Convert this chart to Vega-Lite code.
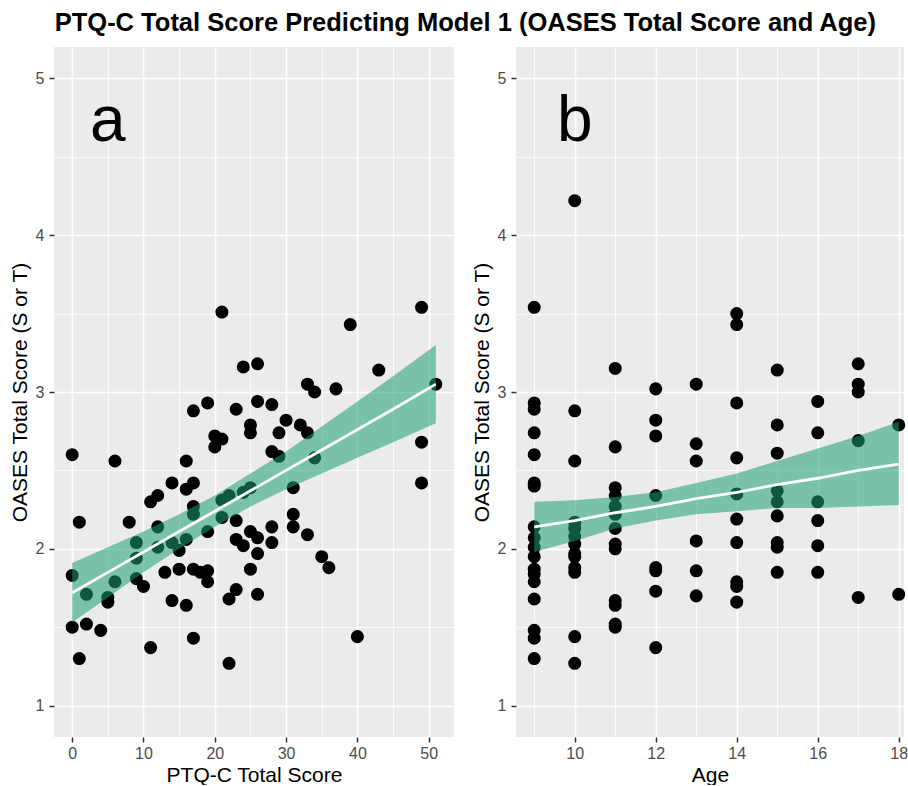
{
  "$schema": "https://vega.github.io/schema/vega-lite/v6.json",
  "padding": {"left": 9, "top": 10, "right": 0, "bottom": 0},
  "background": "white",
  "title": {"text": "PTQ-C Total Score Predicting Model 1 (OASES Total Score and Age)", "fontSize": 25.5, "fontWeight": "bold", "font": "Liberation Sans", "color": "#000000", "anchor": "middle", "offset": 11, "dx": 7},
  "config": {
    "view": {"fill": "#EBEBEB", "stroke": null},
    "axis": {"domain": false, "tickColor": "#333333", "tickWidth": 1.5, "tickSize": 5, "labelPadding": 3, "labelFont": "Liberation Sans", "labelFontSize": 16, "labelColor": "#4D4D4D", "titleFont": "Liberation Sans", "titleFontSize": 21, "titleFontWeight": "normal", "titleColor": "#000000", "titlePadding": 3, "gridColor": "#FFFFFF", "labelOverlap": false, "labelFlush": false},
    "axisY": {"labelPadding": 5, "titlePadding": 5}
  },
  "datasets": {
    "ptq": [
      {"x":0,"y":2.60},{"x":6,"y":2.56},{"x":16,"y":2.56},{"x":21,"y":3.51},{"x":49,"y":3.54},{"x":39,"y":3.43},{"x":24,"y":3.16},{"x":26,"y":3.18},{"x":43,"y":3.14},{"x":33,"y":3.05},{"x":34,"y":3.00},{"x":37,"y":3.02},{"x":51,"y":3.05},{"x":19,"y":2.93},{"x":17,"y":2.88},{"x":23,"y":2.89},{"x":26,"y":2.94},{"x":28,"y":2.92},{"x":30,"y":2.82},{"x":25,"y":2.79},{"x":25,"y":2.74},{"x":20,"y":2.72},{"x":21,"y":2.70},{"x":20,"y":2.65},{"x":29,"y":2.74},{"x":32,"y":2.79},{"x":33,"y":2.74},{"x":28,"y":2.62},{"x":29,"y":2.59},{"x":34,"y":2.58},{"x":49,"y":2.68},
      {"x":14,"y":2.42},{"x":17,"y":2.42},{"x":16,"y":2.38},{"x":49,"y":2.42},{"x":11,"y":2.30},{"x":12,"y":2.34},{"x":17,"y":2.27},{"x":17,"y":2.22},{"x":21,"y":2.31},{"x":22,"y":2.34},{"x":24,"y":2.36},{"x":25,"y":2.39},{"x":31,"y":2.39},{"x":31,"y":2.22},{"x":31,"y":2.14},{"x":33,"y":2.09},{"x":21,"y":2.20},{"x":23,"y":2.18},{"x":25,"y":2.11},{"x":26,"y":2.07},{"x":23,"y":2.06},{"x":24,"y":2.02},{"x":28,"y":2.14},{"x":28,"y":2.04},{"x":26,"y":1.97},{"x":25,"y":1.87},{"x":23,"y":1.74},{"x":22,"y":1.68},{"x":26,"y":1.71},{"x":22,"y":1.27},{"x":35,"y":1.95},{"x":36,"y":1.88},{"x":40,"y":1.44},{"x":8,"y":2.17},{"x":1,"y":2.17},{"x":9,"y":2.04},{"x":9,"y":1.94},{"x":12,"y":2.14},{"x":12,"y":2.01},{"x":14,"y":2.04},{"x":15,"y":1.99},{"x":16,"y":2.06},{"x":19,"y":2.11},{"x":13,"y":1.85},{"x":15,"y":1.87},{"x":17,"y":1.87},{"x":18,"y":1.85},{"x":19,"y":1.86},{"x":19,"y":1.79},{"x":9,"y":1.81},{"x":10,"y":1.76},{"x":6,"y":1.79},{"x":0,"y":1.83},{"x":2,"y":1.71},{"x":5,"y":1.69},{"x":5,"y":1.66},{"x":14,"y":1.67},{"x":16,"y":1.64},{"x":0,"y":1.50},{"x":2,"y":1.52},{"x":4,"y":1.48},{"x":1,"y":1.30},{"x":11,"y":1.37},{"x":17,"y":1.43}
    ],
    "age": [
      {"x":9,"y":3.54},{"x":9,"y":2.93},{"x":9,"y":2.89},{"x":9,"y":2.74},{"x":9,"y":2.60},{"x":9,"y":2.42},{"x":9,"y":2.40},{"x":9,"y":2.14},{"x":9,"y":2.07},{"x":9,"y":2.01},{"x":9,"y":1.95},{"x":9,"y":1.87},{"x":9,"y":1.84},{"x":9,"y":1.79},{"x":9,"y":1.68},{"x":9,"y":1.48},{"x":9,"y":1.43},{"x":9,"y":1.30},
      {"x":10,"y":4.22},{"x":10,"y":2.88},{"x":10,"y":2.56},{"x":10,"y":2.17},{"x":10,"y":2.13},{"x":10,"y":2.08},{"x":10,"y":2.03},{"x":10,"y":1.97},{"x":10,"y":1.95},{"x":10,"y":1.88},{"x":10,"y":1.85},{"x":10,"y":1.44},{"x":10,"y":1.27},
      {"x":11,"y":3.15},{"x":11,"y":2.65},{"x":11,"y":2.39},{"x":11,"y":2.34},{"x":11,"y":2.27},{"x":11,"y":2.22},{"x":11,"y":2.13},{"x":11,"y":2.03},{"x":11,"y":2.00},{"x":11,"y":1.67},{"x":11,"y":1.64},{"x":11,"y":1.52},{"x":11,"y":1.50},
      {"x":12,"y":3.02},{"x":12,"y":2.82},{"x":12,"y":2.72},{"x":12,"y":2.34},{"x":12,"y":1.88},{"x":12,"y":1.86},{"x":12,"y":1.73},{"x":12,"y":1.37},
      {"x":13,"y":3.05},{"x":13,"y":2.67},{"x":13,"y":2.56},{"x":13,"y":2.05},{"x":13,"y":1.86},{"x":13,"y":1.70},
      {"x":14,"y":3.50},{"x":14,"y":3.43},{"x":14,"y":2.93},{"x":14,"y":2.58},{"x":14,"y":2.35},{"x":14,"y":2.19},{"x":14,"y":2.04},{"x":14,"y":1.79},{"x":14,"y":1.76},{"x":14,"y":1.66},
      {"x":15,"y":3.14},{"x":15,"y":2.79},{"x":15,"y":2.61},{"x":15,"y":2.37},{"x":15,"y":2.30},{"x":15,"y":2.21},{"x":15,"y":2.04},{"x":15,"y":2.01},{"x":15,"y":1.85},
      {"x":16,"y":2.94},{"x":16,"y":2.74},{"x":16,"y":2.30},{"x":16,"y":2.18},{"x":16,"y":2.02},{"x":16,"y":1.85},
      {"x":17,"y":3.18},{"x":17,"y":3.05},{"x":17,"y":3.00},{"x":17,"y":2.69},{"x":17,"y":1.69},
      {"x":18,"y":2.79},{"x":18,"y":1.71}
    ],
    "ptq_fit": [
      {"x":0,"lo":1.53,"y":1.72,"hi":1.91},{"x":5,"lo":1.69,"y":1.85,"hi":2.01},{"x":10,"lo":1.85,"y":1.98,"hi":2.11},{"x":15,"lo":2.00,"y":2.11,"hi":2.22},{"x":20,"lo":2.14,"y":2.24,"hi":2.34},{"x":25,"lo":2.27,"y":2.37,"hi":2.48},{"x":30,"lo":2.38,"y":2.50,"hi":2.62},{"x":35,"lo":2.48,"y":2.63,"hi":2.78},{"x":40,"lo":2.58,"y":2.76,"hi":2.94},{"x":45,"lo":2.68,"y":2.89,"hi":3.10},{"x":51,"lo":2.80,"y":3.05,"hi":3.30}
    ],
    "age_fit": [
      {"x":9,"lo":1.98,"y":2.14,"hi":2.30},{"x":10,"lo":2.05,"y":2.18,"hi":2.31},{"x":11,"lo":2.13,"y":2.23,"hi":2.33},{"x":12,"lo":2.18,"y":2.27,"hi":2.36},{"x":13,"lo":2.22,"y":2.32,"hi":2.42},{"x":14,"lo":2.24,"y":2.36,"hi":2.48},{"x":15,"lo":2.26,"y":2.41,"hi":2.56},{"x":16,"lo":2.26,"y":2.45,"hi":2.64},{"x":17,"lo":2.27,"y":2.50,"hi":2.72},{"x":18,"lo":2.28,"y":2.54,"hi":2.81}
    ],
    "label_a": [{"x":5,"y":4.6,"label":"a"}],
    "label_b": [{"x":10,"y":4.6,"label":"b"}]
  },
  "spacing": 17,
  "hconcat": [
    {
      "width": 400,
      "height": 690,
      "encoding": {
        "x": {"field": "x", "type": "quantitative", "scale": {"domain": [-2.55, 53.55], "nice": false, "zero": false},
          "axis": {"title": "PTQ-C Total Score", "values": [0,5,10,15,20,25,30,35,40,45,50],
            "labelExpr": "datum.value % 10 === 0 ? format(datum.value, 'd') : ''",
            "gridWidth": {"condition": {"test": "datum.value % 10 === 0", "value": 1.6}, "value": 0.8},
            "tickOpacity": {"condition": {"test": "datum.value % 10 === 0", "value": 1}, "value": 0}}},
        "y": {"field": "y", "type": "quantitative", "scale": {"domain": [0.8, 5.2], "nice": false, "zero": false},
          "axis": {"title": "OASES Total Score (S or T)", "values": [1,1.5,2,2.5,3,3.5,4,4.5,5],
            "labelExpr": "datum.value % 1 === 0 ? format(datum.value, 'd') : ''",
            "gridWidth": {"condition": {"test": "datum.value % 1 === 0", "value": 1.6}, "value": 0.8},
            "tickOpacity": {"condition": {"test": "datum.value % 1 === 0", "value": 1}, "value": 0}}}
      },
      "layer": [
        {"data": {"name": "ptq"}, "mark": {"type": "circle", "size": 170, "color": "#000000", "opacity": 1}},
        {"data": {"name": "ptq_fit"}, "mark": {"type": "area", "color": "#1B9E77", "opacity": 0.55}, "encoding": {"y": {"field": "lo", "type": "quantitative"}, "y2": {"field": "hi"}}},
        {"data": {"name": "ptq_fit"}, "mark": {"type": "line", "color": "#FFFFFF", "strokeWidth": 2.8}},
        {"data": {"name": "label_a"}, "mark": {"type": "text", "fontSize": 64, "font": "Liberation Sans", "color": "#000000", "align": "center", "baseline": "alphabetic"}, "encoding": {"text": {"field": "label"}}}
      ]
    },
    {
      "width": 388,
      "height": 690,
      "encoding": {
        "x": {"field": "x", "type": "quantitative", "scale": {"domain": [8.55, 18.13], "nice": false, "zero": false},
          "axis": {"title": "Age", "values": [9,10,11,12,13,14,15,16,17,18],
            "labelExpr": "datum.value % 2 === 0 ? format(datum.value, 'd') : ''",
            "gridWidth": {"condition": {"test": "datum.value % 2 === 0", "value": 1.6}, "value": 0.8},
            "tickOpacity": {"condition": {"test": "datum.value % 2 === 0", "value": 1}, "value": 0}}},
        "y": {"field": "y", "type": "quantitative", "scale": {"domain": [0.8, 5.2], "nice": false, "zero": false},
          "axis": {"title": "OASES Total Score (S or T)", "values": [1,1.5,2,2.5,3,3.5,4,4.5,5],
            "labelExpr": "datum.value % 1 === 0 ? format(datum.value, 'd') : ''",
            "gridWidth": {"condition": {"test": "datum.value % 1 === 0", "value": 1.6}, "value": 0.8},
            "tickOpacity": {"condition": {"test": "datum.value % 1 === 0", "value": 1}, "value": 0}}}
      },
      "layer": [
        {"data": {"name": "age"}, "mark": {"type": "circle", "size": 170, "color": "#000000", "opacity": 1}},
        {"data": {"name": "age_fit"}, "mark": {"type": "area", "color": "#1B9E77", "opacity": 0.55}, "encoding": {"y": {"field": "lo", "type": "quantitative"}, "y2": {"field": "hi"}}},
        {"data": {"name": "age_fit"}, "mark": {"type": "line", "color": "#FFFFFF", "strokeWidth": 2.8}},
        {"data": {"name": "label_b"}, "mark": {"type": "text", "fontSize": 64, "font": "Liberation Sans", "color": "#000000", "align": "center", "baseline": "alphabetic"}, "encoding": {"text": {"field": "label"}}}
      ]
    }
  ]
}
